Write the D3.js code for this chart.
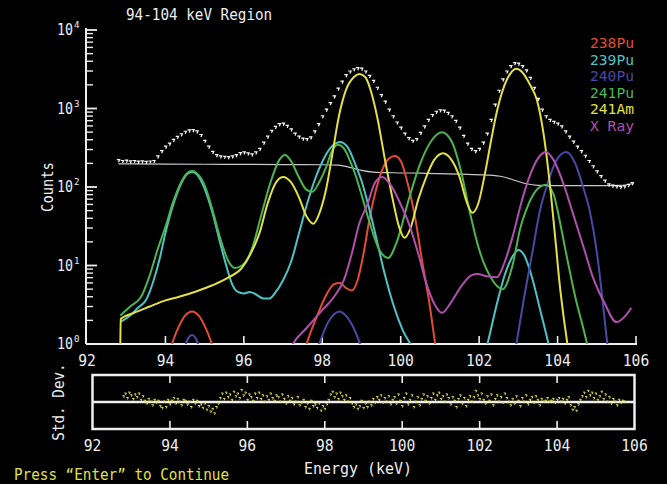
<!DOCTYPE html>
<html>
<head>
<meta charset="utf-8">
<script src="https://cdn.jsdelivr.net/npm/d3@7"></script>
<style>
  html, body { margin: 0; padding: 0; background: #000; }
  svg { display: block; }
  text { font-family: "DejaVu Sans Mono", monospace; }
</style>
</head>
<body>
<div id="chart"></div>
<script>
// fitted components, [energy keV, counts]; null breaks a line
const pu238 = [[94.1,0.8],[94.3,1.5],[94.5,2.3],[94.68,2.6],[94.85,2.3],[95.05,1.5],[95.25,0.8],[96.3,null],
  [97.5,0.7],[97.7,1.4],[97.9,2.5],[98.1,4.2],[98.3,5.8],[98.45,6.0],[98.6,5.2],[98.75,4.8],[98.9,6.5],[99.05,14],
  [99.2,38],[99.37,92],[99.55,175],[99.7,230],[99.85,248],[100.0,215],[100.2,100],[100.39,35],[100.55,11],
  [100.72,3.6],[100.88,1.0],[101.0,0.4]];
const pu239 = [[92.85,1.9],[93.1,2.3],[93.3,2.9],[93.5,3.6],[93.7,6.5],[93.85,12],[94.0,26],[94.2,60],[94.4,110],
  [94.55,145],[94.68,155],[94.8,145],[95.0,95],[95.2,47],[95.4,19],[95.55,10],[95.7,5.8],[95.85,4.6],[96.0,4.4],
  [96.15,4.6],[96.3,4.3],[96.5,3.8],[96.65,3.8],[96.8,4.5],[97.0,6.5],[97.2,11],[97.4,25],[97.6,58],[97.8,120],
  [98.0,210],[98.2,310],[98.45,375],[98.65,320],[98.85,190],[99.0,120],[99.2,52],[99.4,20],[99.6,7.5],[99.8,3.3],
  [100.05,1.5],[100.35,0.8],[100.5,0.5],[101.5,null],[102.1,0.6],[102.25,1.2],[102.45,3.2],[102.65,7.5],[102.85,13],
  [103.0,15.8],[103.15,13.5],[103.35,7],[103.55,2.8],[103.75,1.1],[103.9,0.5]];
const pu240 = [[94.45,0.7],[94.55,1.1],[94.68,1.3],[94.8,1.1],[94.92,0.7],[96,null],
  [97.8,0.7],[97.95,1.1],[98.15,1.9],[98.3,2.4],[98.45,2.6],[98.6,2.3],[98.8,1.6],[98.95,1.05],[99.1,0.6],[101,null],
  [102.85,0.5],[102.95,1.0],[103.15,4],[103.37,16],[103.55,50],[103.75,112],[103.95,210],[104.22,280],[104.45,200],
  [104.65,100],[104.8,55],[105.05,9.6],[105.15,3.5],[105.27,1.0],[105.4,0.4]];
const pu241 = [[92.85,2.3],[93.1,3.0],[93.38,4.0],[93.6,7.5],[93.8,16],[94.0,31],[94.2,65],[94.4,115],[94.55,150],
  [94.68,160],[94.8,150],[95.0,105],[95.2,51],[95.4,22],[95.6,11.5],[95.77,9.3],[95.95,10],[96.2,16],[96.45,45],
  [96.7,123],[96.9,220],[97.05,256],[97.2,215],[97.4,134],[97.6,92],[97.75,87],[97.9,110],[98.1,180],[98.25,290],
  [98.4,345],[98.55,310],[98.7,220],[98.85,140],[99.0,80],[99.2,36],[99.45,16],[99.68,12.5],[99.9,20],[100.2,68],
  [100.5,200],[100.8,400],[101.05,500],[101.3,380],[101.55,150],[101.75,51],[102.0,16],[102.3,7],[102.6,5],
  [102.85,10],[103.05,30],[103.2,51],[103.45,90],[103.7,107],[103.9,80],[104.05,38],[104.2,15.8],[104.45,4],
  [104.75,1.0],[104.9,0.4]];
const am241 = [[92.85,1.0],[92.86,2.1],[93.2,2.5],[93.6,3.0],[94.0,3.6],[94.35,4.0],[94.8,4.7],[95.2,5.6],[95.6,7.0],
  [95.95,9.3],[96.2,15],[96.4,26],[96.6,60],[96.8,110],[97.0,134],[97.2,115],[97.4,75],[97.6,42],[97.77,34],
  [97.95,50],[98.1,95],[98.25,250],[98.42,780],[98.6,1700],[98.8,2500],[98.95,2750],[99.1,2500],[99.25,1600],
  [99.4,780],[99.6,220],[99.8,68],[99.95,32],[100.1,22.5],[100.25,30],[100.45,70],[100.65,134],[100.85,220],
  [101.08,270],[101.3,220],[101.5,134],[101.68,65],[101.83,47],[101.98,62],[102.15,150],[102.3,380],[102.45,900],
  [102.6,1700],[102.8,2800],[102.95,3200],[103.1,2900],[103.3,2000],[103.47,1300],[103.65,450],[103.8,112],
  [103.95,20],[104.05,6],[104.15,2.3],[104.25,1.0],[104.35,0.4]];
const xray = [[97.1,0.7],[97.25,1.0],[97.6,1.6],[98.0,2.7],[98.3,4.0],[98.55,6.5],[98.75,14],[98.95,35],[99.15,60],
  [99.35,115],[99.53,134],[99.75,105],[100.0,60],[100.2,35],[100.45,14],[100.65,6],[100.85,3.3],[101.05,2.5],
  [101.3,3.5],[101.55,5.5],[101.8,7.5],[101.95,7.8],[102.2,7.3],[102.45,7.1],[102.65,11],[102.85,23],[103.1,70],
  [103.35,165],[103.55,250],[103.7,280],[103.9,220],[104.15,110],[104.37,50],[104.65,18],[104.9,7.1],[105.2,3.3],
  [105.5,1.9],[105.7,2.2],[105.88,2.9]];
const background = [[92.8,197],[94,196],[95,195],[96,194],[97,193],[98,192],[98.4,190],[98.7,178],[99.0,163],
  [99.3,155],[99.8,152],[100.5,150],[101.5,146],[102.2,142],[102.6,135],[102.9,122],[103.2,110],[103.5,105],
  [104,104],[105,104],[105.6,105],[105.9,110]];

// measured spectrum, one channel every 0.1 keV from 92.8
const totalStart = 92.8, totalStep = 0.1;
const totalCounts = [
  215, 210, 212, 208, 210, 206, 208, 205, 207, 210,
  240, 280, 320, 350, 390, 425, 460, 495, 515, 520,
  500, 450, 380, 320, 275, 250, 240, 238, 235, 240,
  250, 265, 270, 262, 255, 270, 300, 360, 430, 510,
  570, 620, 630, 590, 530, 470, 430, 405, 400, 420,
  500, 620, 780, 950, 1150, 1400, 1750, 2150, 2600, 2900,
  3100, 3200, 3150, 2900, 2550, 2200, 1800, 1450, 1200, 950,
  780, 650, 560, 470, 410, 380, 400, 480, 580, 700,
  810, 890, 930, 920, 860, 780, 680, 560, 440, 350,
  300, 280, 300, 360, 470, 700, 1100, 1650, 2300, 2900,
  3400, 3700, 3650, 3400, 3000, 2400, 1800, 1300, 950, 780,
  700, 660, 630, 580, 500, 430, 370, 320, 280, 245,
  210, 180, 155, 135, 118, 106, 102, 100, 98, 100,
  104, 110];

// residuals in std. dev., one every 0.05 keV from 92.8
const residStart = 92.8, residStep = 0.05;
const residuals = [
  0.6, 0.9, 0.4, 1.0, 0.7, 0.3, 0.8, 0.5, 0.9, 0.2, 0.6, 0.1, -0.2, 0.3, 0.0, -0.4, 0.2, -0.1, 0.1, -0.5,
  -0.7, 0.0, -0.6, 0.2, -0.3, 0.1, 0.4, -0.2, 0.3, 0.0, -0.4, 0.2, 0.1, -0.3, 0.0, -0.6, 0.2, -0.2, 0.1, -0.5,
  -0.3, -0.7, -0.2, -0.9, -0.5, -1.1, -0.8, -1.3, -0.6, -0.2, 0.4, 0.9, 0.3, 1.0, 0.5, 0.8, 0.2, 1.1, 0.6, 0.9,
  0.4, 1.3, 0.7, 1.0, 0.2, 0.8, 0.5, 0.1, 0.9, 0.4, 1.0, 0.3, 0.7, 0.0, 0.6, 0.2, 0.9, 0.4, 0.1, 0.7,
  0.5, 0.0, 0.8, 0.3, -0.2, 0.6, 0.1, 0.4, -0.3, 0.0, 0.5, -0.4, -0.1, 0.2, -0.6, -0.2, -0.8, 0.1, -0.5, -0.3,
  -0.7, -0.2, -1.0, -0.5, -0.8, -0.3, 0.2, 0.8, 1.1, 0.5, 0.9, 0.3, 1.0, 0.6, 0.2, 0.7, 0.0, 0.4, -0.2, -0.6,
  -0.3, -0.8, -0.5, 0.1, -0.7, -0.2, -0.6, 0.0, -0.4, 0.3, -0.1, 0.5, 0.2, 0.7, -0.1, 0.4, 0.0, 0.6, -0.3, 0.2,
  0.5, -0.2, 0.8, 0.1, -0.5, 0.4, 0.9, -0.3, 0.2, 0.7, -0.6, 0.0, 0.5, -0.4, 0.3, 0.8, 0.1, 0.6, -0.2, 0.4,
  0.9, 0.2, 0.7, 1.0, 0.3, 0.6, 0.0, 0.8, 0.4, -0.3, 0.5, 0.1, -0.6, 0.3, 0.7, -0.2, 0.4, -0.5, 0.2, 0.6,
  0.0, 0.5, 1.2, 0.7, 0.3, 0.9, 0.2, -0.2, 0.6, 0.1, 0.8, -0.4, 0.3, 0.7, 0.0, 0.5, -0.1, 0.9, 0.4, 0.0,
  -0.4, 0.3, -0.2, 0.6, 0.1, -0.5, 0.4, 0.0, 0.7, -0.3, 0.2, 0.5, -0.1, 0.6, 0.2, -0.4, 0.3, 0.0, 0.1, 0.4,
  0.0, 0.1, 0.3, -0.1, 0.2, 0.4, 0.0, 0.3, -0.2, 0.2, 0.5, -0.4, -0.9, -0.6, -1.0, -0.3, 0.2, 0.6, 1.0, 0.5,
  1.2, 0.7, 1.0, 0.4, 0.9, 0.2, 0.6, 1.1, 0.3, 0.8, 0.0, 0.5, -0.2, 0.3, 0.0, -0.4, 0.2, -0.1, 0.1, 0.0];

const xTicks = [92, 94, 96, 98, 100, 102, 104, 106];
const decades = [0, 1, 2, 3, 4];
const legendNames = ["238Pu", "239Pu", "240Pu", "241Pu", "241Am", "X Ray"];
const legendColors = ["#e34b35", "#4cc3c6", "#4a48a8", "#4cb450", "#e2e046", "#b24fae"];

const W = 667, H = 484;
const axisColor = "#eeeeee";

const svg = d3.select("#chart").append("svg")
    .attr("width", W)
    .attr("height", H)
    .style("background", "#000");

// text helper: condensed mono look by squeezing to a fixed char width
function addText(parent, str, x, y, size, cw, color, anchor) {
    return parent.append("text")
        .attr("x", x)
        .attr("y", y)
        .attr("font-size", size)
        .attr("fill", color)
        .attr("text-anchor", anchor || "start")
        .attr("textLength", str.length * cw)
        .attr("lengthAdjust", "spacingAndGlyphs")
        .text(str);
}

// scales for the main panel
const x = d3.scaleLinear().domain([92, 106]).range([87, 636]);
const y = d3.scaleLog().domain([1, 1e4]).range([344, 30]);

// scales for the residual panel
const xr = d3.scaleLinear().domain([92, 106]).range([92.5, 634.5]);
const yr = d3.scaleLinear().domain([-3, 3]).range([429, 375]);

svg.append("defs").append("clipPath").attr("id", "plotClip")
    .append("rect")
    .attr("x", x(92) - 1).attr("y", 0)
    .attr("width", x(106) - x(92) + 6).attr("height", y(1));

// title
addText(svg, "94-104 keV Region", 126, 20, 16, 8.6, axisColor);

// axes of main panel
svg.append("line")
    .attr("x1", 86).attr("x2", 86)
    .attr("y1", y(1e4) - 2).attr("y2", y(1))
    .attr("stroke", axisColor).attr("stroke-width", 2);
svg.append("line")
    .attr("x1", 86).attr("x2", x(106) + 1)
    .attr("y1", y(1)).attr("y2", y(1))
    .attr("stroke", axisColor).attr("stroke-width", 2);

// y ticks: major at decades, minor at 2..9
const yTickVals = [];
decades.forEach(n => {
    if (n < 4) {
        for (let k = 1; k <= 9; k++) yTickVals.push({ v: k * Math.pow(10, n), major: k === 1 });
    } else {
        yTickVals.push({ v: 1e4, major: true });
    }
});
svg.selectAll(".ytick")
    .data(yTickVals)
    .enter()
    .append("line")
    .attr("class", "ytick")
    .attr("x1", 86)
    .attr("x2", d => d.major ? 97 : 93)
    .attr("y1", d => y(d.v))
    .attr("y2", d => y(d.v))
    .attr("stroke", axisColor)
    .attr("stroke-width", d => d.major ? 1.8 : 1.4);

decades.forEach(n => {
    const yy = y(Math.pow(10, n));
    addText(svg, "10", 73, yy + 5, 15, 8, axisColor, "end");
    addText(svg, String(n), 74, yy - 2, 9.5, 5.5, axisColor, "start");
});

// x ticks
svg.selectAll(".xtick")
    .data(xTicks.filter(d => d > 92))
    .enter()
    .append("line")
    .attr("class", "xtick")
    .attr("x1", d => x(d)).attr("x2", d => x(d))
    .attr("y1", y(1)).attr("y2", y(1) - 8)
    .attr("stroke", axisColor).attr("stroke-width", 1.6);
xTicks.forEach(t => {
    addText(svg, String(t), x(t), 366, 16, 8.8, axisColor, "middle");
});

// axis titles
addText(svg, "Counts", 0, 0, 15, 8.3, axisColor, "middle")
    .attr("transform", "translate(53,187) rotate(-90)");

// curves
const line = d3.line()
    .defined(d => d[1] != null)
    .x(d => x(d[0]))
    .y(d => y(d[1]))
    .curve(d3.curveMonotoneX);

const plot = svg.append("g").attr("clip-path", "url(#plotClip)");

plot.append("path")
    .datum(background)
    .attr("d", line)
    .attr("fill", "none")
    .attr("stroke", "#c8c8c8")
    .attr("stroke-width", 1.2);

const series = [pu238, pu239, pu240, pu241, am241, xray];
series.forEach((s, i) => {
    plot.append("path")
        .datum(s)
        .attr("d", line)
        .attr("fill", "none")
        .attr("stroke", legendColors[i])
        .attr("stroke-width", 2);
});

// measured points drawn as small tick marks
plot.selectAll(".pt")
    .data(totalCounts)
    .enter()
    .append("path")
    .attr("class", "pt")
    .attr("transform", (d, i) => `translate(${x(totalStart + i * totalStep)},${y(d)})`)
    .attr("d", "M-1.5,-1.2L1.3,-1.2L0.2,1.4")
    .attr("fill", "none")
    .attr("stroke", "#ffffff")
    .attr("stroke-width", 1.2);

// legend
legendNames.forEach((name, i) => {
    addText(svg, name, 590, 48 + i * 16.6, 14, 8.8, legendColors[i], "start");
});

// residual panel
const rp = svg.append("g");
rp.append("rect")
    .attr("x", xr(92)).attr("y", yr(3))
    .attr("width", xr(106) - xr(92)).attr("height", yr(-3) - yr(3))
    .attr("fill", "none")
    .attr("stroke", axisColor)
    .attr("stroke-width", 2.5);
rp.append("line")
    .attr("x1", xr(92)).attr("x2", xr(106))
    .attr("y1", yr(0)).attr("y2", yr(0))
    .attr("stroke", axisColor)
    .attr("stroke-width", 2.5);
xTicks.filter(d => d > 92 && d < 106).forEach(t => {
    rp.append("line")
        .attr("x1", xr(t)).attr("x2", xr(t))
        .attr("y1", yr(3)).attr("y2", yr(3) + 8)
        .attr("stroke", axisColor).attr("stroke-width", 1.6);
    rp.append("line")
        .attr("x1", xr(t)).attr("x2", xr(t))
        .attr("y1", yr(-3)).attr("y2", yr(-3) - 8)
        .attr("stroke", axisColor).attr("stroke-width", 1.6);
});
rp.selectAll(".res")
    .data(residuals)
    .enter()
    .append("path")
    .attr("class", "res")
    .attr("transform", (d, i) => `translate(${xr(residStart + i * residStep)},${yr(d)})`)
    .attr("d", "M-1.1,-0.9L1.0,-0.9L0.1,1.1")
    .attr("fill", "none")
    .attr("stroke", "#e2e046")
    .attr("stroke-width", 1);

xTicks.forEach(t => {
    addText(svg, String(t), xr(t), 451, 16, 8.8, axisColor, "middle");
});

addText(svg, "Std. Dev.", 0, 0, 15, 8.6, axisColor, "middle")
    .attr("transform", "translate(64,402) rotate(-90)");
addText(svg, "Energy (keV)", 358, 474, 16, 9.0, axisColor, "middle");
addText(svg, "Press \u201cEnter\u201d to Continue", 14, 480, 16, 8.6, "#e2e046", "start");
</script>
</body>
</html>
